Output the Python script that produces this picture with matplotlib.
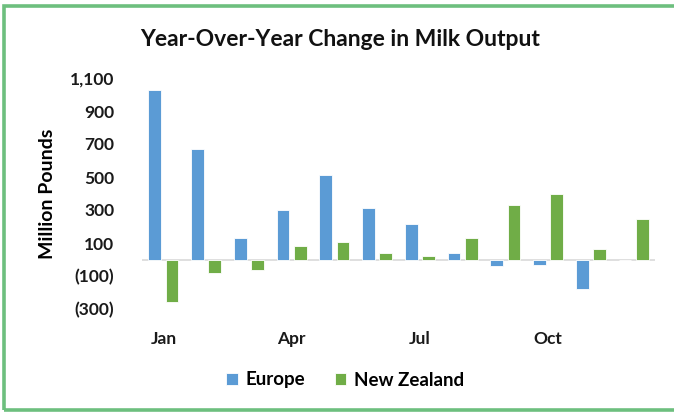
import matplotlib
matplotlib.use('Agg')
import matplotlib.pyplot as plt
import numpy as np
from matplotlib.patches import Rectangle

months = ['Jan', 'Feb', 'Mar', 'Apr', 'May', 'Jun',
          'Jul', 'Aug', 'Sep', 'Oct', 'Nov', 'Dec']
europe = [1030, 667, 131, 297, 511, 313, 216, 42, -38, -36, -178, 0]
new_zealand = [-260, -79, -65, 83, 107, 42, 24, 133, 331, 398, 61, 248]
y_ticks = [-300, -100, 100, 300, 500, 700, 900, 1100]

blue = '#5B9BD5'
green = '#70AD47'


def fmt(v):
    if v < 0:
        return '({:,})'.format(-v)
    return '{:,}'.format(v)


plt.rcParams['font.family'] = ['Lato', 'DejaVu Sans']

fig = plt.figure(figsize=(6.74, 4.12), dpi=100)
W, H = 674, 412
ax = fig.add_axes([142 / W, 1 - 309 / H, (655 - 142) / W, (309 - 78) / H])

x = np.arange(len(months))
bw = 0.3
ax.bar(x - 0.2, europe, bw, color=blue, edgecolor='white', linewidth=0.6, label='Europe')
ax.bar(x + 0.2, new_zealand, bw, color=green, edgecolor='white', linewidth=0.6, label='New Zealand')
ax.axhline(0, color='#D9D9D9', linewidth=1.2, zorder=0)

ax.set_xlim(-0.5, len(months) - 0.5)
ax.set_ylim(-300, 1100)
ax.set_yticks(y_ticks)
ax.set_yticklabels([fmt(v) for v in y_ticks], fontsize=12.5, fontweight='bold', color='#1a1a1a')
ax.set_xticks(x[::3])
ax.set_xticklabels(months[::3], fontsize=12.5, fontweight='bold', color='#1a1a1a')
ax.tick_params(axis='y', length=0, pad=20)
ax.tick_params(axis='x', length=0, pad=16)
for s in ax.spines.values():
    s.set_visible(False)

ax.set_ylabel('Million Pounds', fontsize=14, fontweight='bold', labelpad=10)
fig.text(340 / W, 1 - 40 / H, 'Year-Over-Year Change in Milk Output',
         ha='center', va='center', fontsize=16.5, fontweight='bold', color='#111111')

fig.legend(loc='center', bbox_to_anchor=(345 / W, 1 - 380 / H), ncol=2, frameon=False,
           prop={'weight': 'bold', 'size': 13.5}, handlelength=0.6,
           handleheight=0.6, columnspacing=1.6, handletextpad=0.4)

# green frame: open on the right side like the cropped screenshot
fig.patches.append(Rectangle((4 / W, 2.5 / H), 1, 1 - 8 / H, transform=fig.transFigure,
                             fill=False, edgecolor='#6DBF7E', linewidth=2.6))

fig.savefig('out.png', dpi=100)
